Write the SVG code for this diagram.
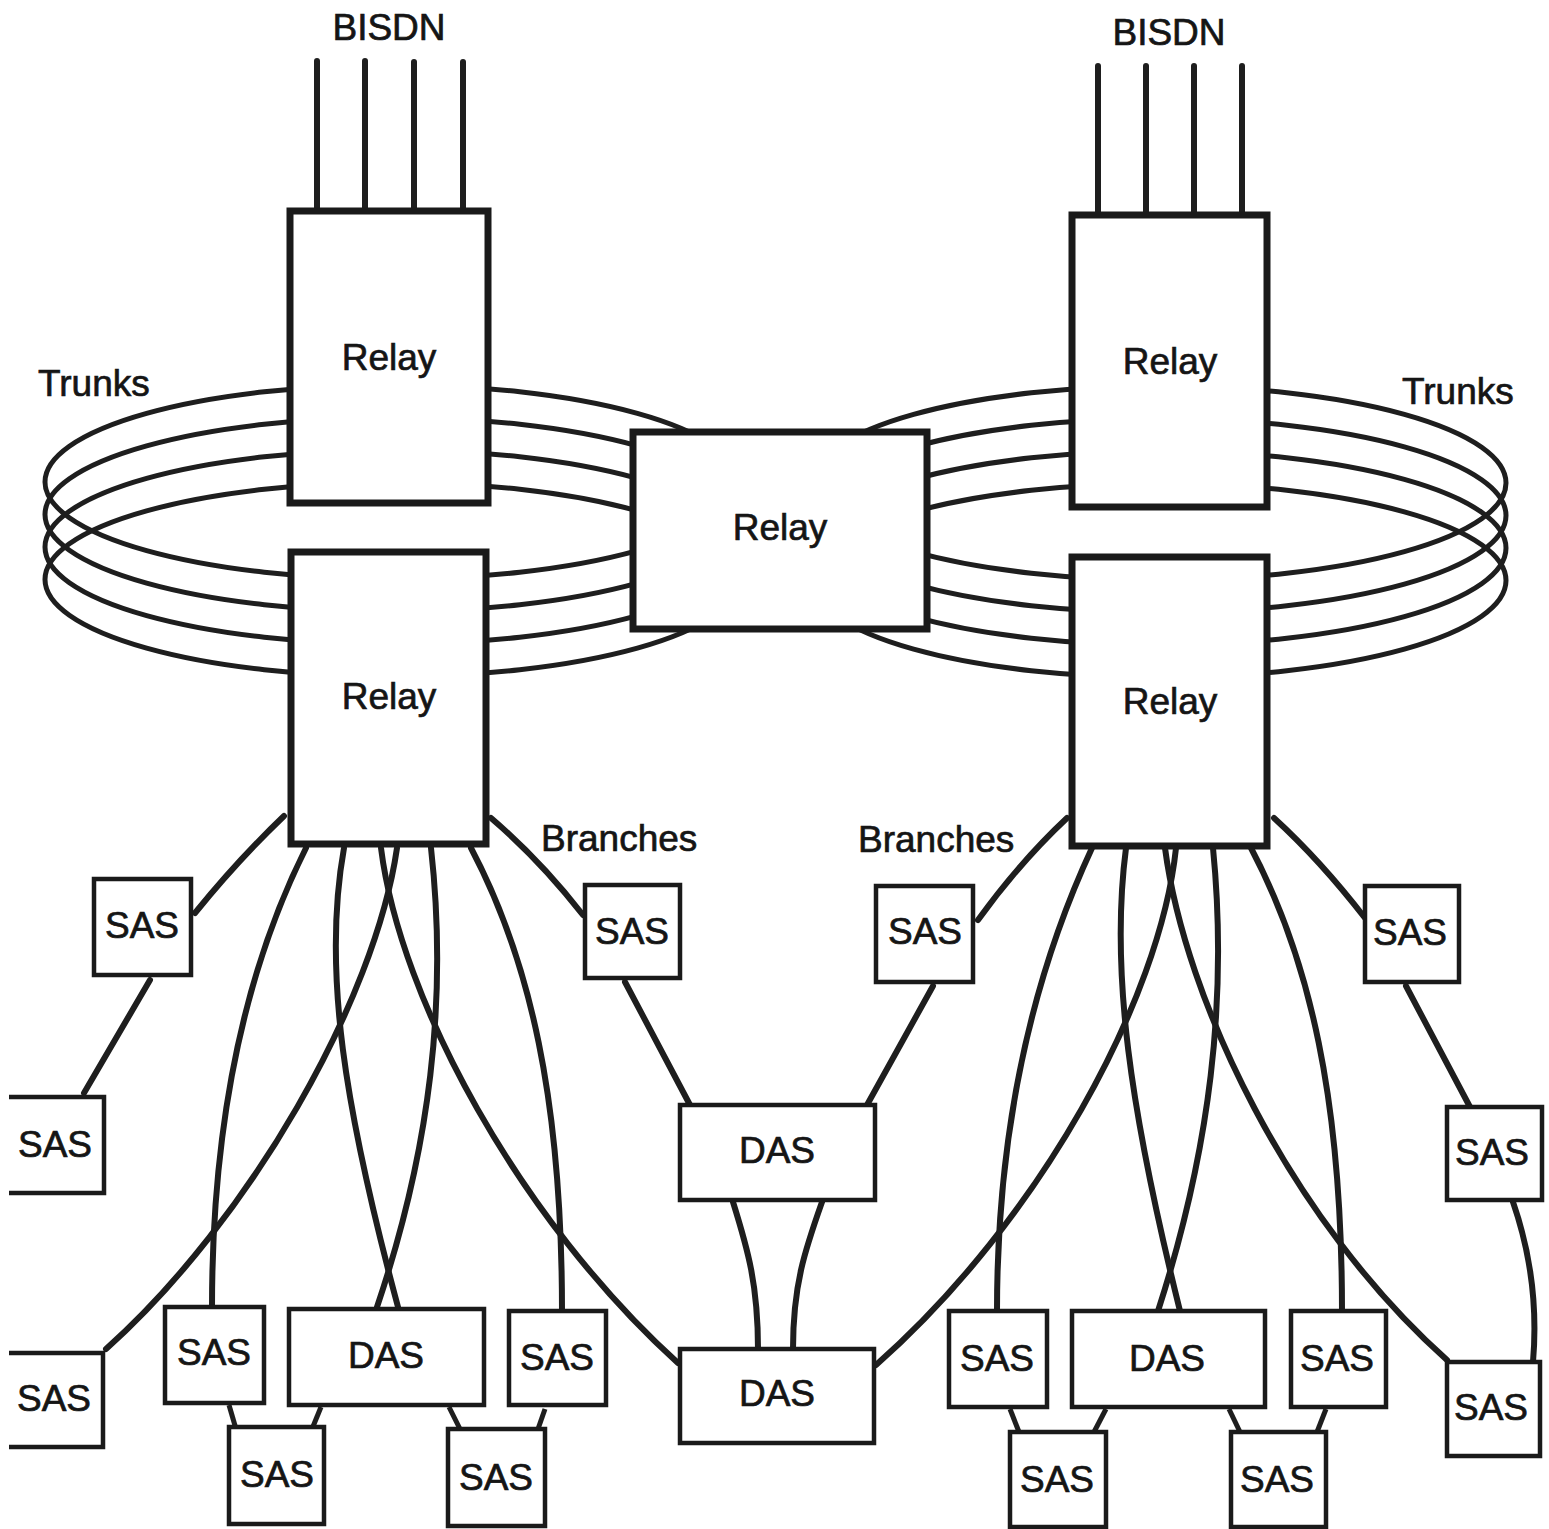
<svg xmlns="http://www.w3.org/2000/svg" width="1549" height="1529" viewBox="0 0 1549 1529">
<style>
.bg{fill:#fff}
.trunk{fill:none;stroke:#1e1e1e;stroke-width:5}
.wire{fill:none;stroke:#1e1e1e;stroke-width:6;stroke-linecap:round}
.stub{fill:none;stroke:#1e1e1e;stroke-width:5;stroke-linecap:butt}
.relay{fill:#fff;stroke:#1a1a1a;stroke-width:7}
.box{fill:#fff;stroke:#1a1a1a;stroke-width:4.5}
.open{fill:#fff;stroke:#1a1a1a;stroke-width:4.5}
text{font-family:"Liberation Sans",Arial,sans-serif;font-size:37px;fill:#151515;stroke:#151515;stroke-width:0.7;text-anchor:middle}
.lbl{text-anchor:start}
</style>
<rect class="bg" x="0" y="0" width="1549" height="1529"/>

<g id="labels">
<text x="389" y="40">BISDN</text>
<text x="1169" y="45">BISDN</text>
<text class="lbl" x="38" y="396">Trunks</text>
<text class="lbl" x="1402" y="404">Trunks</text>
<text class="lbl" x="541" y="851">Branches</text>
<text class="lbl" x="858" y="852">Branches</text>
</g>

<g id="connectors">
<!-- BISDN access lines -->
<line class="wire" x1="317" y1="61" x2="317" y2="208"/>
<line class="wire" x1="365" y1="61" x2="365" y2="208"/>
<line class="wire" x1="414" y1="62" x2="414" y2="208"/>
<line class="wire" x1="463" y1="62" x2="463" y2="208"/>
<line class="wire" x1="1098" y1="66" x2="1098" y2="213"/>
<line class="wire" x1="1146" y1="66" x2="1146" y2="213"/>
<line class="wire" x1="1194" y1="66" x2="1194" y2="213"/>
<line class="wire" x1="1242" y1="66" x2="1242" y2="213"/>
<!-- trunk rings left -->
<ellipse class="trunk" cx="392" cy="482" rx="347" ry="97"/>
<ellipse class="trunk" cx="392" cy="514.5" rx="347" ry="97"/>
<ellipse class="trunk" cx="392" cy="547" rx="347" ry="97"/>
<ellipse class="trunk" cx="392" cy="579.5" rx="347" ry="97"/>
<!-- trunk rings right -->
<ellipse class="trunk" cx="1159" cy="483" rx="347" ry="97"/>
<ellipse class="trunk" cx="1159" cy="515.5" rx="347" ry="97"/>
<ellipse class="trunk" cx="1159" cy="548" rx="347" ry="97"/>
<ellipse class="trunk" cx="1159" cy="580.5" rx="347" ry="97"/>
<!-- left branches -->
<path class="wire" d="M284,816 Q238,860 195,913"/>
<path class="wire" d="M150,980 L84,1093"/>
<path class="wire" d="M306,848 C250,960 212,1110 212,1307"/>
<path class="wire" d="M344,848 C322,970 345,1110 398,1307"/>
<path class="wire" d="M431,848 C448,1000 430,1150 377,1307"/>
<path class="wire" d="M381,848 C400,1000 520,1220 678,1363"/>
<path class="wire" d="M397,848 C375,1000 250,1220 106,1349"/>
<path class="wire" d="M471,848 C530,960 562,1100 562,1311"/>
<path class="wire" d="M491,818 Q540,860 583,915"/>
<path class="wire" d="M625,982 L690,1105"/>
<path class="stub" d="M229,1405 L236,1429"/>
<path class="stub" d="M321,1407 L312,1429"/>
<path class="stub" d="M449,1407 L460,1429"/>
<path class="stub" d="M545,1409 L538,1429"/>
<!-- centre -->
<path class="wire" d="M733,1202 C748,1250 758,1285 758,1349"/>
<path class="wire" d="M822,1202 C805,1250 793,1285 793,1349"/>
<!-- right branches -->
<path class="wire" d="M1067,818 Q1020,862 978,920"/>
<path class="wire" d="M933,986 L867,1105"/>
<path class="wire" d="M1274,818 Q1320,860 1365,918"/>
<path class="wire" d="M1406,986 L1470,1107"/>
<path class="wire" d="M1513,1202 Q1540,1280 1533,1362"/>
<path class="wire" d="M1092,848 C1040,960 997,1110 997,1311"/>
<path class="wire" d="M1126,848 C1110,970 1130,1110 1180,1311"/>
<path class="wire" d="M1213,848 C1228,1000 1210,1150 1158,1311"/>
<path class="wire" d="M1176,848 C1160,1000 1040,1220 876,1365"/>
<path class="wire" d="M1165,848 C1185,1000 1290,1220 1447,1360"/>
<path class="wire" d="M1251,848 C1310,960 1342,1100 1342,1311"/>
<path class="stub" d="M1010,1409 L1019,1432"/>
<path class="stub" d="M1106,1409 L1094,1432"/>
<path class="stub" d="M1229,1409 L1240,1432"/>
<path class="stub" d="M1326,1409 L1317,1432"/>
</g>

<g id="relay-left-top"><rect class="relay" x="290" y="211" width="198" height="292"/><text x="389" y="370">Relay</text></g>
<g id="relay-left-bottom"><rect class="relay" x="291" y="552" width="195" height="292"/><text x="389" y="709">Relay</text></g>
<g id="relay-centre"><rect class="relay" x="633" y="432" width="294" height="197"/><text x="780" y="540">Relay</text></g>
<g id="relay-right-top"><rect class="relay" x="1072" y="215" width="195" height="292"/><text x="1170" y="374">Relay</text></g>
<g id="relay-right-bottom"><rect class="relay" x="1072" y="557" width="195" height="289"/><text x="1170" y="714">Relay</text></g>

<g id="sas-a"><rect class="box" x="94" y="879" width="97" height="96"/><text x="142" y="938">SAS</text></g>
<g id="sas-b"><path class="open" d="M9,1097 H104 V1193 H9"/><text x="55" y="1157">SAS</text></g>
<g id="sas-c"><path class="open" d="M9,1353 H103 V1447 H9"/><text x="54" y="1411">SAS</text></g>
<g id="sas-d"><rect class="box" x="165" y="1307" width="99" height="96"/><text x="214" y="1365">SAS</text></g>
<g id="das-left"><rect class="box" x="289" y="1309" width="195" height="96"/><text x="386" y="1368">DAS</text></g>
<g id="sas-e"><rect class="box" x="509" y="1311" width="97" height="94"/><text x="557" y="1370">SAS</text></g>
<g id="sas-f"><rect class="box" x="229" y="1427" width="95" height="97"/><text x="277" y="1487">SAS</text></g>
<g id="sas-g"><rect class="box" x="448" y="1429" width="97" height="97"/><text x="496" y="1490">SAS</text></g>
<g id="sas-h"><rect class="box" x="585" y="885" width="95" height="93"/><text x="632" y="944">SAS</text></g>
<g id="das-centre-upper"><rect class="box" x="680" y="1105" width="195" height="95"/><text x="777" y="1163">DAS</text></g>
<g id="das-centre-lower"><rect class="box" x="680" y="1349" width="194" height="94"/><text x="777" y="1406">DAS</text></g>
<g id="sas-i"><rect class="box" x="876" y="886" width="97" height="96"/><text x="925" y="944">SAS</text></g>
<g id="sas-j"><rect class="box" x="1365" y="886" width="94" height="96"/><text x="1410" y="945">SAS</text></g>
<g id="sas-k"><rect class="box" x="1447" y="1107" width="95" height="93"/><text x="1492" y="1165">SAS</text></g>
<g id="sas-l"><rect class="box" x="1447" y="1362" width="93" height="94"/><text x="1491" y="1420">SAS</text></g>
<g id="sas-m"><rect class="box" x="949" y="1311" width="98" height="96"/><text x="997" y="1371">SAS</text></g>
<g id="das-right"><rect class="box" x="1072" y="1311" width="193" height="96"/><text x="1167" y="1371">DAS</text></g>
<g id="sas-n"><rect class="box" x="1291" y="1311" width="95" height="96"/><text x="1337" y="1371">SAS</text></g>
<g id="sas-o"><rect class="box" x="1010" y="1432" width="96" height="95"/><text x="1057" y="1492">SAS</text></g>
<g id="sas-p"><rect class="box" x="1231" y="1432" width="95" height="95"/><text x="1277" y="1492">SAS</text></g>
</svg>
